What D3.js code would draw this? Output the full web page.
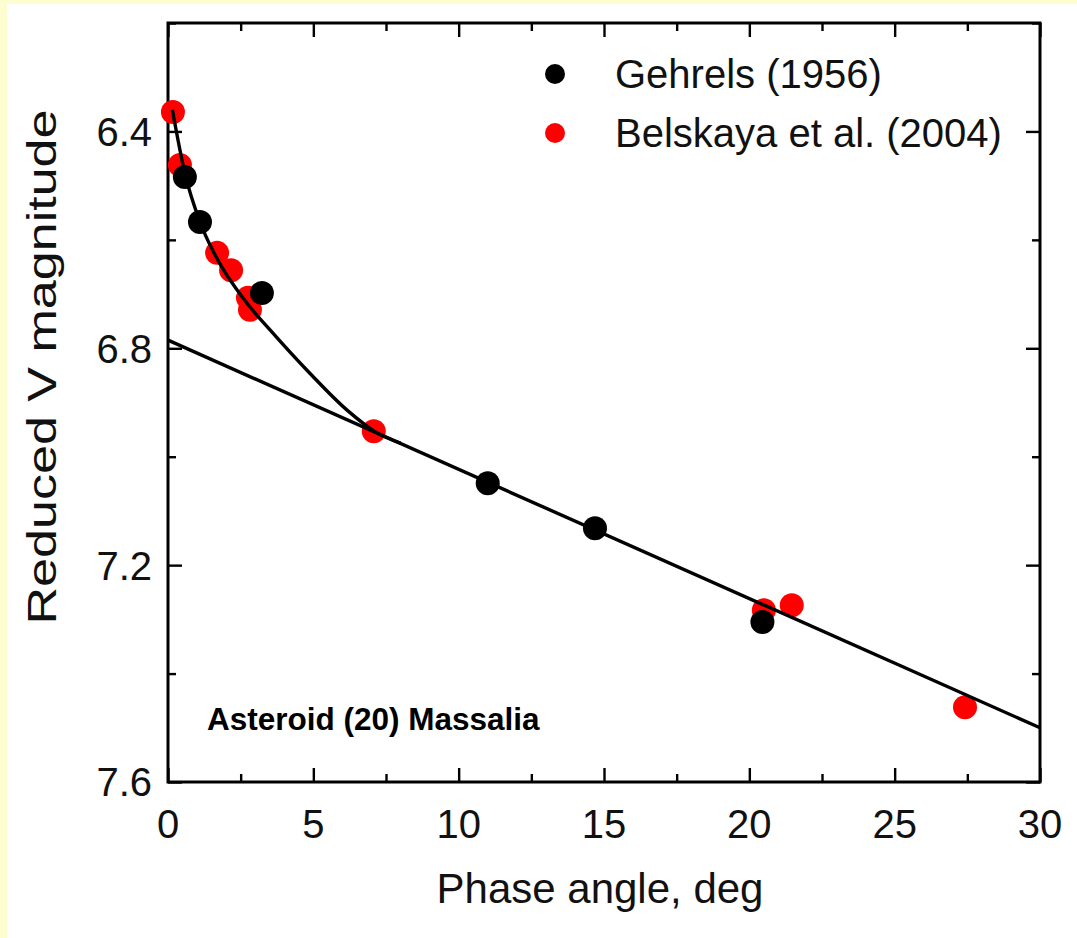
<!DOCTYPE html>
<html>
<head>
<meta charset="utf-8">
<script src="https://cdn.jsdelivr.net/npm/d3@7"></script>
<style>
  html, body { margin: 0; padding: 0; background: #fff; }
  svg { display: block; font-family: "Liberation Sans", Arial, sans-serif; }
</style>
</head>
<body>
<svg id="chart" width="1077" height="938"></svg>
<script>
// ====== Data ======

// Gehrels (1956): phase angle (deg), reduced V mag
const gehrelsX = [0.58, 1.10, 3.23, 11.0, 14.69, 20.45];
const gehrelsY = [6.484, 6.567, 6.698, 7.049, 7.132, 7.305];

// Belskaya et al. (2004)
const belskayaX = [0.17, 0.41, 1.69, 2.17, 2.75, 2.82, 7.08, 20.5, 21.46, 27.42];
const belskayaY = [6.364, 6.462, 6.624, 6.656, 6.707, 6.729, 6.953, 7.283, 7.274, 7.462];

// linear phase law fit
const linX = [0, 30];
const linY = [6.785, 7.50];

// opposition-effect curve (traced)
const curveX = [0.15, 0.58, 1.10, 1.62, 2.72, 3.51, 4.88, 6.16, 7.19, 8.0];
const curveY = [6.36, 6.477, 6.567, 6.628, 6.717, 6.766, 6.846, 6.914, 6.956, 6.975];

const xTicks = [0, 5, 10, 15, 20, 25, 30];
const xMinor = [2.5, 7.5, 12.5, 17.5, 22.5, 27.5];
const yTicks = [6.4, 6.8, 7.2, 7.6];
const yMinor = [6.2, 6.6, 7.0, 7.4];

const legendItems = [
  { label: "Gehrels (1956)", color: "#000" },
  { label: "Belskaya et al. (2004)", color: "#f00" },
];

// ====== Layout ======
const W = 1077, H = 938;
const plot = { left: 168, top: 23, right: 1040, bottom: 782 };

const svg = d3.select("#chart");

// pale yellow page edge (left + top)
svg.append("rect").attr("x", 0).attr("y", 0).attr("width", W).attr("height", H).attr("fill", "#fff");
svg.append("rect").attr("x", 0).attr("y", 0).attr("width", 7).attr("height", H).attr("fill", "#fefdd0");
svg.append("rect").attr("x", 0).attr("y", 0).attr("width", W).attr("height", 4).attr("fill", "#fefdd0");

const x = d3.scaleLinear().domain([0, 30]).range([plot.left, plot.right]);
const y = d3.scaleLinear().domain([6.2, 7.6]).range([plot.top, plot.bottom]);

const g = svg.append("g");

// ====== Axes (ticks inward, mirrored) ======
const axisStroke = 3;
const MAJ = 14, MIN = 8;

function styleAxis(sel) {
  sel.select(".domain").remove();
  sel.selectAll(".tick line").attr("stroke", "#000").attr("stroke-width", 2.4);
  sel.selectAll("text").remove();
}

g.append("g").attr("transform", `translate(0,${plot.bottom})`)
  .call(d3.axisBottom(x).tickValues(xTicks).tickSizeInner(-MAJ).tickSizeOuter(0)).call(styleAxis);
g.append("g").attr("transform", `translate(0,${plot.bottom})`)
  .call(d3.axisBottom(x).tickValues(xMinor).tickSizeInner(-MIN).tickSizeOuter(0)).call(styleAxis);
g.append("g").attr("transform", `translate(0,${plot.top})`)
  .call(d3.axisTop(x).tickValues(xTicks).tickSizeInner(-MAJ).tickSizeOuter(0)).call(styleAxis);
g.append("g").attr("transform", `translate(0,${plot.top})`)
  .call(d3.axisTop(x).tickValues(xMinor).tickSizeInner(-MIN).tickSizeOuter(0)).call(styleAxis);
g.append("g").attr("transform", `translate(${plot.left},0)`)
  .call(d3.axisLeft(y).tickValues(yTicks).tickSizeInner(-MAJ).tickSizeOuter(0)).call(styleAxis);
g.append("g").attr("transform", `translate(${plot.left},0)`)
  .call(d3.axisLeft(y).tickValues(yMinor).tickSizeInner(-MIN).tickSizeOuter(0)).call(styleAxis);
g.append("g").attr("transform", `translate(${plot.right},0)`)
  .call(d3.axisRight(y).tickValues(yTicks).tickSizeInner(-MAJ).tickSizeOuter(0)).call(styleAxis);
g.append("g").attr("transform", `translate(${plot.right},0)`)
  .call(d3.axisRight(y).tickValues(yMinor).tickSizeInner(-MIN).tickSizeOuter(0)).call(styleAxis);

// frame
g.append("rect")
  .attr("x", plot.left).attr("y", plot.top)
  .attr("width", plot.right - plot.left).attr("height", plot.bottom - plot.top)
  .attr("fill", "none").attr("stroke", "#000").attr("stroke-width", axisStroke);

// tick labels
g.selectAll(".xlab").data(xTicks).join("text")
  .attr("x", d => x(d)).attr("y", 838)
  .attr("text-anchor", "middle").attr("font-size", 40).attr("fill", "#111")
  .text(d => d);

g.selectAll(".ylab").data(yTicks).join("text")
  .attr("x", 152).attr("y", d => y(d)).attr("dy", "0.36em")
  .attr("text-anchor", "end").attr("font-size", 40).attr("fill", "#111")
  .text(d => d3.format(".1f")(d));

// axis titles
svg.append("text")
  .attr("x", 600).attr("y", 903)
  .attr("text-anchor", "middle").attr("font-size", 42).attr("fill", "#111")
  .text("Phase angle, deg");

svg.append("text")
  .attr("transform", "translate(56,367) rotate(-90)")
  .attr("text-anchor", "middle").attr("font-size", 40).attr("fill", "#111")
  .attr("textLength", 515).attr("lengthAdjust", "spacingAndGlyphs")
  .text("Reduced V magnitude");

// ====== Marks ======
const belskaya = belskayaX.map((v, i) => ({ x: v, y: belskayaY[i] }));
const gehrels = gehrelsX.map((v, i) => ({ x: v, y: gehrelsY[i] }));

g.selectAll(".red").data(belskaya).join("circle")
  .attr("cx", d => x(d.x)).attr("cy", d => y(d.y)).attr("r", 12)
  .attr("fill", "#f00");

const lineGen = d3.line().x(d => x(d[0])).y(d => y(d[1]));
g.append("path")
  .datum(linX.map((v, i) => [v, linY[i]]))
  .attr("d", lineGen)
  .attr("fill", "none").attr("stroke", "#000").attr("stroke-width", 3.4);

g.append("path")
  .datum(curveX.map((v, i) => [v, curveY[i]]))
  .attr("d", lineGen.curve(d3.curveMonotoneX))
  .attr("fill", "none").attr("stroke", "#000").attr("stroke-width", 3.4);

g.selectAll(".black").data(gehrels).join("circle")
  .attr("cx", d => x(d.x)).attr("cy", d => y(d.y)).attr("r", 12)
  .attr("fill", "#000");

// annotation
svg.append("text")
  .attr("x", 207).attr("y", 730)
  .attr("font-size", 31.5).attr("font-weight", "bold").attr("fill", "#000")
  .text("Asteroid (20) Massalia");

// ====== Legend ======
const leg = svg.append("g");
legendItems.forEach((it, i) => {
  const cy = 74 + i * 59;
  leg.append("circle").attr("cx", 555).attr("cy", cy).attr("r", 10).attr("fill", it.color);
  leg.append("text").attr("x", 615).attr("y", cy).attr("dy", "0.36em")
    .attr("font-size", 40).attr("fill", "#111").text(it.label);
});
</script>
</body>
</html>
